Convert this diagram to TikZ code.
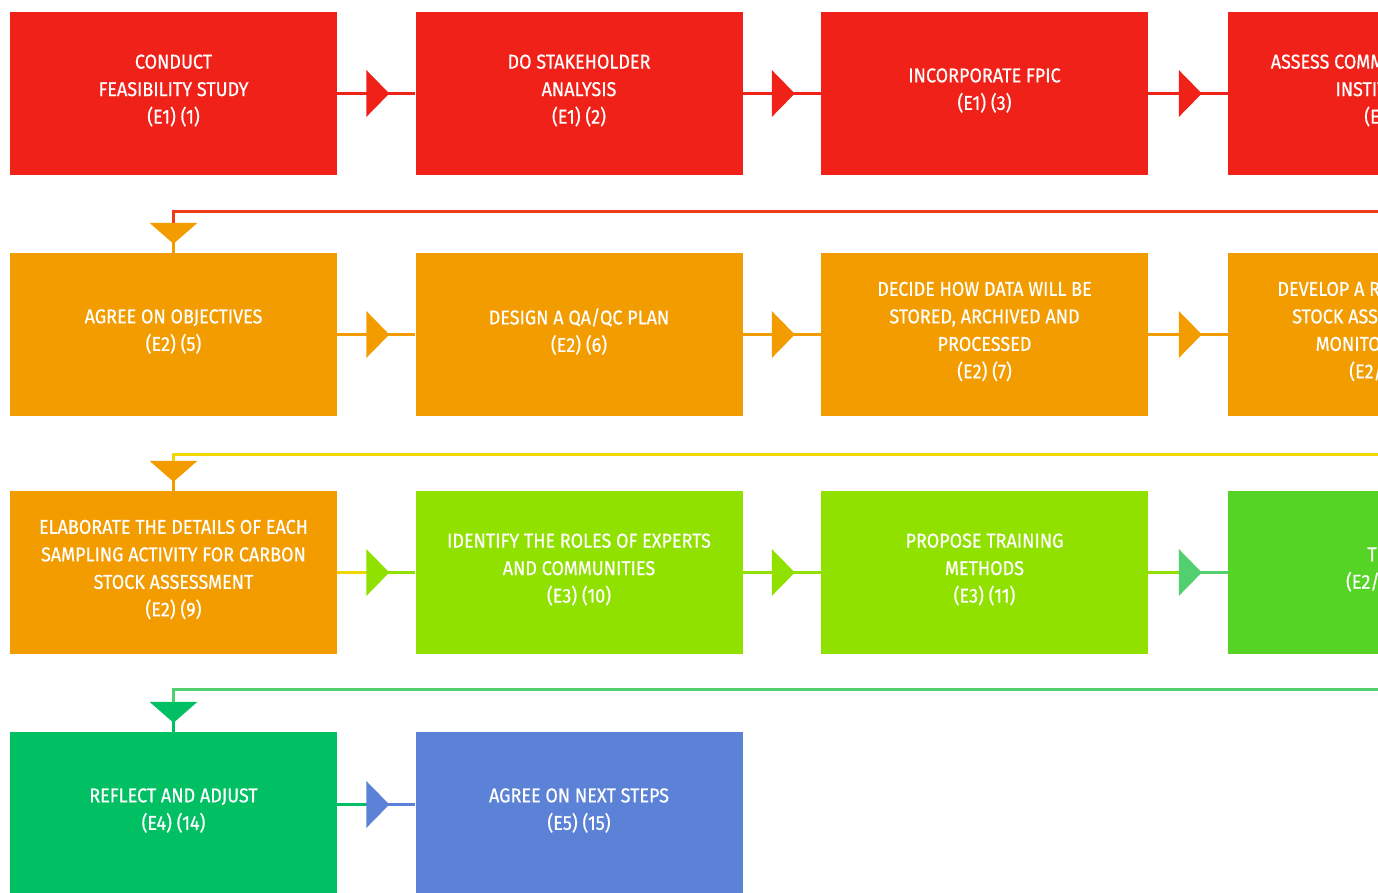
\documentclass[tikz,border=0pt]{standalone}
\usepackage{fontspec}
\setmainfont[FakeStretch=0.9,FakeBold=0.6]{Fira Sans}
\usetikzlibrary{calc}
\definecolor{cred}{HTML}{EF2119}
\definecolor{corange}{HTML}{F39C00}
\definecolor{clime}{HTML}{90E100}
\definecolor{cgreen}{HTML}{55D426}
\definecolor{cdgreen}{HTML}{00C063}
\definecolor{cblue}{HTML}{5B82D6}
\definecolor{cyellow}{HTML}{F2D600}
\definecolor{credor}{HTML}{F03A14}
\definecolor{cmgreen}{HTML}{52D070}
\newcommand\hconn[4]{%
  \draw[conn,#3] (#1) -- ($(#2)+(-49,0)$);
  \draw[conn,#4] ($(#2)+(-49,0)$) -- (#2);
  \fill[#4] ($(#2)+(-49,-23.5)$) -- ($(#2)+(-26,0)$) -- ($(#2)+(-49,23.5)$) -- cycle;}
\newcommand\vconn[5]{%
  \draw[conn,#4] (#1.south) |- ($(#2.north)+(0,-#3)$) -- ($(#2.north)+(0,-30)$);
  \draw[conn,#5] ($(#2.north)+(0,-30)$) -- (#2.north);
  \fill[#5] ($(#2.north)+(-24,-30)$) -- ($(#2.north)+(0,-9)$) -- ($(#2.north)+(24,-30)$) -- cycle;}
\newcommand\stepbox[5]{%
  \node[box, fill=#4] (#1) at (#2,#3) {};
  \node[txt] (#1t) at ([yshift=3pt]#1.center) {#5};}
\begin{document}
\begin{tikzpicture}[x=1pt,y=-1pt,
  box/.style={rectangle, minimum width=327pt, minimum height=163pt, inner sep=0pt},
  txt/.style={inner sep=0pt, text=white, align=center, font=\fontsize{20}{27.5}\selectfont},
  conn/.style={line width=3pt}]
\useasboundingbox (0,0) rectangle (1378,892);
\clip (0,0) rectangle (1378,892);
% row 1
\stepbox{n1}{173.5}{93.5}{cred}{CONDUCT\\FEASIBILITY STUDY\\(E1) (1)}
\stepbox{n2}{579}{93.5}{cred}{DO STAKEHOLDER\\ANALYSIS\\(E1) (2)}
\stepbox{n3}{984.5}{93.5}{cred}{INCORPORATE FPIC\\(E1) (3)}
\stepbox{n4}{1391.5}{93.5}{cred}{ASSESS COMMUNITY CAPACITY\\INSTITUTIONS\\(E1) (4)}
% row 2
\stepbox{n5}{173.5}{334.5}{corange}{AGREE ON OBJECTIVES\\(E2) (5)}
\stepbox{n6}{579}{334.5}{corange}{DESIGN A QA/QC PLAN\\(E2) (6)}
\stepbox{n7}{984.5}{334.5}{corange}{DECIDE HOW DATA WILL BE\\STORED, ARCHIVED AND\\PROCESSED\\(E2) (7)}
\stepbox{n8}{1391.5}{334.5}{corange}{DEVELOP A ROBUST CARBON\\STOCK ASSESSMENT AND\\MONITORING PLAN\\(E2/E3) (8)}
% row 3
\stepbox{n9}{173.5}{572.5}{corange}{ELABORATE THE DETAILS OF EACH\\SAMPLING ACTIVITY FOR CARBON\\STOCK ASSESSMENT\\(E2) (9)}
\stepbox{n10}{579}{572.5}{clime}{IDENTIFY THE ROLES OF EXPERTS\\AND COMMUNITIES\\(E3) (10)}
\stepbox{n11}{984.5}{572.5}{clime}{PROPOSE TRAINING\\METHODS\\(E3) (11)}
\stepbox{n12}{1391.5}{572.5}{cgreen}{TRAIN\\(E2/E3) (12)}
% row 4
\stepbox{n14}{173.5}{813.5}{cdgreen}{REFLECT AND ADJUST\\(E4) (14)}
\stepbox{n15}{579}{813.5}{cblue}{AGREE ON NEXT STEPS\\(E5) (15)}
% horizontal connectors
\hconn{n1.east}{n2.west}{cred}{cred}
\hconn{n2.east}{n3.west}{cred}{cred}
\hconn{n3.east}{n4.west}{cred}{cred}
\hconn{n5.east}{n6.west}{corange}{corange}
\hconn{n6.east}{n7.west}{corange}{corange}
\hconn{n7.east}{n8.west}{corange}{corange}
\hconn{n9.east}{n10.west}{cyellow}{clime}
\hconn{n10.east}{n11.west}{clime}{clime}
\hconn{n11.east}{n12.west}{clime}{cmgreen}
\coordinate (s14) at ([yshift=9pt]n14.east);
\coordinate (t15) at ([yshift=9pt]n15.west);
\hconn{s14}{t15}{cdgreen}{cblue}
% wrap connectors
\vconn{n4}{n5}{41}{credor}{corange}
\vconn{n8}{n9}{36}{cyellow}{corange}
\vconn{n12}{n14}{42}{cmgreen}{cdgreen}
\end{tikzpicture}
\end{document}
